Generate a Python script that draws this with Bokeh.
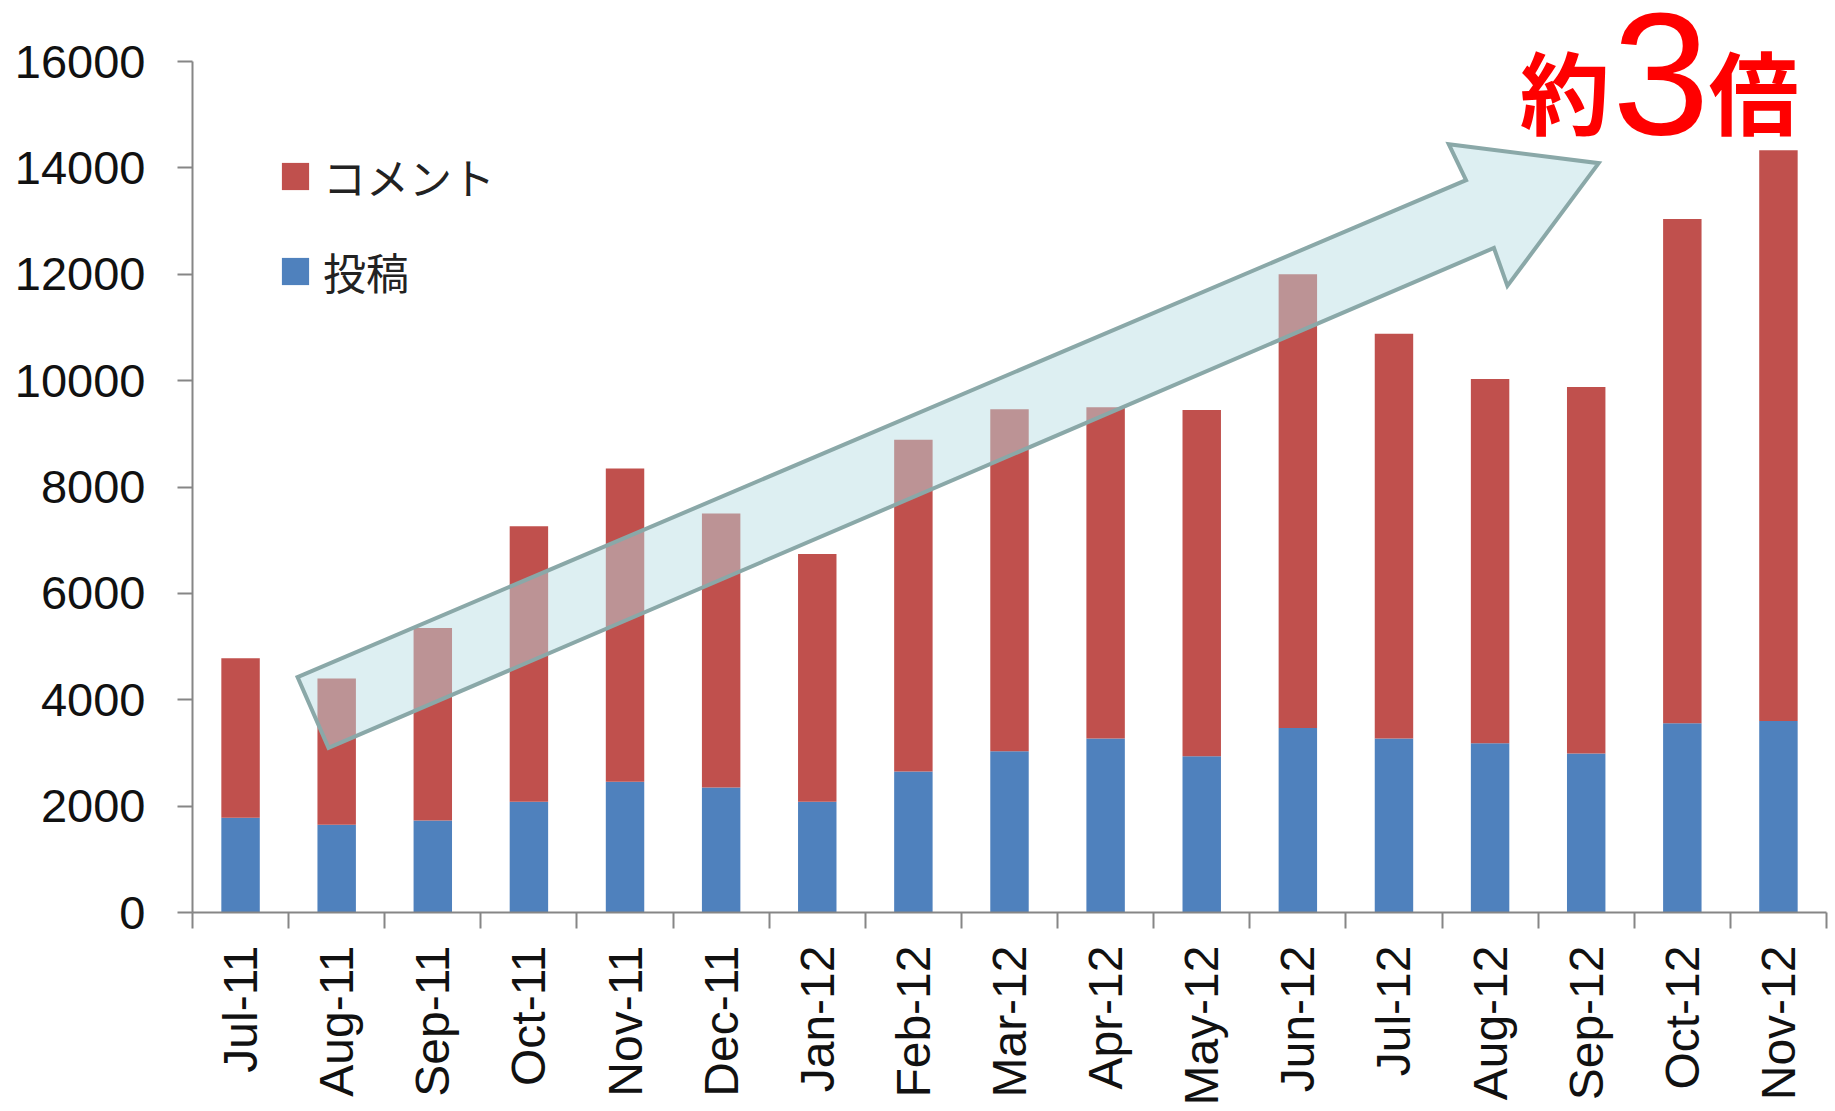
import math
from bokeh.plotting import figure
from bokeh.models import (ColumnDataSource, FactorRange, Range1d, FixedTicker, LinearAxis,
                          CategoricalAxis, Legend, LegendItem, Label)
from bokeh.embed import file_html
from bokeh.resources import INLINE

months = ["Jul-11", "Aug-11", "Sep-11", "Oct-11", "Nov-11", "Dec-11", "Jan-12", "Feb-12", "Mar-12",
          "Apr-12", "May-12", "Jun-12", "Jul-12", "Aug-12", "Sep-12", "Oct-12", "Nov-12"]
posts = [1780, 1650, 1730, 2080, 2460, 2350, 2080, 2650, 3030, 3270, 2940, 3470, 3270, 3180, 2990, 3560, 3600]
totals = [4780, 4400, 5350, 7260, 8350, 7500, 6740, 8890, 9460, 9500, 9450, 12000, 10880, 10030, 9880, 13040, 14330]
comments = [t - p for t, p in zip(totals, posts)]
y_ticks = [0, 2000, 4000, 6000, 8000, 10000, 12000, 14000, 16000]

# block arrow annotation (x in category units, y in data units)
arrow_x = [1.093, 13.25, 13.07, 14.63, 13.68, 13.54, 1.415]
arrow_y = [4427, 13770, 14445, 14089, 11781, 12494, 3095]

BLUE = "#4F81BD"
RED = "#C0504D"
AXIS = "#868686"

source = ColumnDataSource(dict(month=months, posts=posts, comments=comments))

p = figure(width=1835, height=1108, x_range=FactorRange(*months, range_padding=0),
           y_range=Range1d(0, 17147), output_backend="svg", toolbar_location=None,
           x_axis_location=None, min_border_left=192, min_border_right=9,
           min_border_top=0, min_border_bottom=194)
p.outline_line_color = None
p.xgrid.visible = False
p.ygrid.visible = False
p.background_fill_color = "white"

ya = p.yaxis[0]
ya.ticker = FixedTicker(ticks=y_ticks)
ya.bounds = (0, 16000)
ya.axis_line_color = AXIS
ya.axis_line_width = 2
ya.major_tick_line_color = AXIS
ya.major_tick_line_width = 2
ya.major_tick_out = 15
ya.major_tick_in = 0
ya.minor_tick_line_color = None
ya.major_label_text_font = "Liberation Sans"
ya.major_label_text_font_size = "47px"
ya.major_label_text_color = "#111111"
ya.major_label_standoff = 32

# tick marks at the category boundaries (numeric synthetic coordinates of the factor range)
tick_axis = LinearAxis(ticker=FixedTicker(ticks=list(range(len(months) + 1))))
tick_axis.axis_line_color = AXIS
tick_axis.axis_line_width = 2
tick_axis.major_tick_line_color = AXIS
tick_axis.major_tick_line_width = 2
tick_axis.major_tick_out = 16
tick_axis.major_tick_in = 0
tick_axis.minor_tick_line_color = None
tick_axis.major_label_text_alpha = 0
tick_axis.major_label_text_font_size = "1px"
tick_axis.major_label_standoff = 0
p.add_layout(tick_axis, "below")

cat_axis = CategoricalAxis()
cat_axis.axis_line_color = None
cat_axis.major_tick_line_color = None
cat_axis.major_tick_out = 0
cat_axis.major_tick_in = 0
cat_axis.major_label_orientation = math.pi / 2
cat_axis.major_label_text_font = "Liberation Sans"
cat_axis.major_label_text_font_size = "48px"
cat_axis.major_label_text_color = "#111111"
cat_axis.major_label_standoff = 17
p.add_layout(cat_axis, "below")

rs = p.vbar_stack(["posts", "comments"], x="month", width=0.4, color=[BLUE, RED],
                  source=source, line_width=0)

p.patch(arrow_x, arrow_y, fill_color="#B8DDE4", fill_alpha=0.48,
        line_color="#8AA8A8", line_width=4, line_join="miter")

legend = Legend(items=[LegendItem(label="コメント", renderers=[rs[1]]),
                       LegendItem(label="投稿", renderers=[rs[0]])],
                location=(86, 610))
legend.background_fill_alpha = 0
legend.border_line_color = None
legend.padding = 0
legend.margin = 0
legend.spacing = 33
legend.glyph_height = 34
legend.glyph_width = 34
legend.label_height = 48
legend.label_standoff = 11
legend.label_text_font = "Noto Sans CJK JP"
legend.label_text_font_size = "43px"
legend.label_text_color = "#222222"
p.add_layout(legend)

for txt, x, y, size, font, style in [("約", 14.277, 15487, "90px", "Noto Sans CJK JP", "bold"),
                                     ("3", 15.276, 15768, "175px", "Liberation Sans", "normal"),
                                     ("倍", 16.243, 15487, "90px", "Noto Sans CJK JP", "bold")]:
    p.add_layout(Label(x=x, y=y, text=txt, text_font=font, text_font_size=size,
                       text_font_style=style, text_color="#FF0000",
                       text_align="center", text_baseline="middle"))

open("out.html", "w").write(file_html(p, INLINE))
